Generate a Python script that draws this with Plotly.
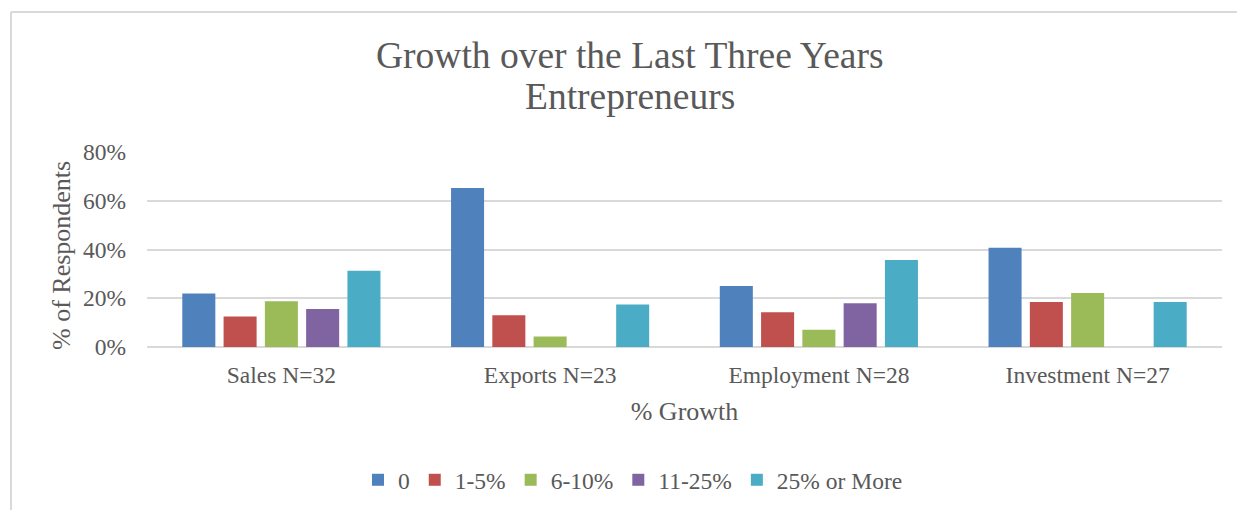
import plotly.graph_objects as go

# Survey categories (x axis) and growth bands (series)
categories = ["Sales N=32", "Exports N=23", "Employment N=28", "Investment N=27"]
bands = ["0", "1-5%", "6-10%", "11-25%", "25% or More"]

# Share of respondents (%) per growth band, one value per category
growth_0 = [21.9, 65.2, 25.0, 40.7]
growth_1_5 = [12.5, 13.0, 14.3, 18.5]
growth_6_10 = [18.8, 4.3, 7.1, 22.2]
growth_11_25 = [15.6, 0.0, 17.9, 0.0]
growth_25_plus = [31.3, 17.4, 35.7, 18.5]

series = [growth_0, growth_1_5, growth_6_10, growth_11_25, growth_25_plus]
colors = ["#4F81BD", "#C0504D", "#9BBB59", "#8064A2", "#4BACC6"]

FONT = "Liberation Serif"
TEXT = "#595959"
GRID = "#D9D9D9"

fig = go.Figure()
for name, vals, col in zip(bands, series, colors):
    fig.add_trace(go.Bar(
        x=categories,
        y=[v / 100 for v in vals],
        name=name,
        marker=dict(color=col, line=dict(width=0)),
    ))

W, H = 1237, 510
L, R, T, B = 147, 15, 152, 163
pw, ph = W - L - R, H - T - B

def px_x(x):
    return (x - L) / pw

def px_y(y):
    return (H - B - y) / ph

fig.update_layout(
    width=W, height=H, autosize=False,
    margin=dict(l=L, r=R, t=T, b=B, autoexpand=False),
    paper_bgcolor="white", plot_bgcolor="white",
    font=dict(family=FONT, color=TEXT, size=23.5),
    barmode="group", bargap=0.232, bargroupgap=0.2,
    showlegend=True,
    legend=dict(
        orientation="h", x=px_x(633), y=px_y(480),
        xanchor="center", yanchor="middle",
        font=dict(family=FONT, size=23.5, color=TEXT),
        traceorder="normal", itemclick=False,
    ),
    xaxis=dict(
        automargin=False,
        showgrid=False, showline=False, zeroline=False,
        ticks="", ticklabelstandoff=11,
        tickfont=dict(family=FONT, size=23.5, color=TEXT),
        title=dict(text="% Growth", standoff=15,
                   font=dict(family=FONT, size=26, color=TEXT)),
    ),
    yaxis=dict(
        automargin=False,
        range=[0, 0.8], dtick=0.2, tickformat=".0%",
        showgrid=True, gridcolor=GRID, gridwidth=1.5,
        zeroline=True, zerolinecolor=GRID, zerolinewidth=1.5,
        showline=False, ticks="", ticklabelstandoff=20,
        tickfont=dict(family=FONT, size=23.5, color=TEXT),
    ),
)

# Vertical axis title
fig.add_annotation(
    text="% of Respondents", textangle=-90,
    xref="paper", yref="paper", x=px_x(61), y=px_y(256),
    xanchor="center", yanchor="middle", showarrow=False,
    font=dict(family=FONT, size=26, color=TEXT),
)

# Two-line chart title, one annotation per line for tight line spacing
for line, yc in (("Growth over the Last Three Years", 55),
                 ("Entrepreneurs", 97)):
    fig.add_annotation(
        text=line,
        xref="paper", yref="paper", x=px_x(630), y=px_y(yc),
        xanchor="center", yanchor="middle", showarrow=False,
        font=dict(family=FONT, size=37.5, color=TEXT),
    )

# Chart frame border (top and left edges visible)
fig.add_shape(type="line", xref="paper", yref="paper",
              x0=px_x(11), x1=px_x(1260), y0=px_y(12), y1=px_y(12),
              line=dict(color=GRID, width=2))
fig.add_shape(type="line", xref="paper", yref="paper",
              x0=px_x(11), x1=px_x(11), y0=px_y(12), y1=px_y(530),
              line=dict(color=GRID, width=2))

fig.write_html("out.html")
